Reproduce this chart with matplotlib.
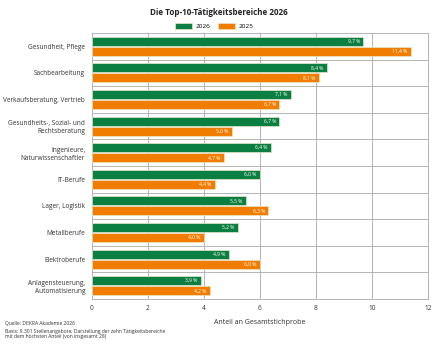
import matplotlib.pyplot as plt
import numpy as np

plt.rcParams['font.family'] = ['Open Sans', 'DejaVu Sans']

kategorien = ["Gesundheit, Pflege", "Sachbearbeitung", "Verkaufsberatung, Vertrieb",
              "Gesundheits-, Sozial- und\nRechtsberatung", "Ingenieure,\nNaturwissenschaftler",
              "IT-Berufe", "Lager, Logistik", "Metallberufe", "Elektroberufe",
              "Anlagensteuerung,\nAutomatisierung"]
werte_2026 = [9.7, 8.4, 7.1, 6.7, 6.4, 6.0, 5.5, 5.2, 4.9, 3.9]
werte_2025 = [11.4, 8.1, 6.7, 5.0, 4.7, 4.4, 6.3, 4.0, 6.0, 4.2]

gruen = "#0b7f41"
orange = "#f07d00"

fig = plt.figure(figsize=(4.37, 3.45), dpi=100)
ax = fig.add_axes([0.2105, 0.1333, 0.7685, 0.771])

y = np.arange(len(kategorien))
h = 0.34
b1 = ax.barh(y - h/2 - 0.02, werte_2026, height=h, color=gruen, edgecolor="#e8e6c8", linewidth=0.5, label="2026", zorder=3)
b2 = ax.barh(y + h/2 + 0.02, werte_2025, height=h, color=orange, edgecolor="#e8e6c8", linewidth=0.5, label="2025", zorder=3)

for bars, werte in ((b1, werte_2026), (b2, werte_2025)):
    for bar, v in zip(bars, werte):
        ax.text(bar.get_width() - 0.12, bar.get_y() + bar.get_height()/2,
                f"{v:.1f} %".replace(".", ","), color="white", fontsize=3.6,
                ha="right", va="center", zorder=4)

ax.set_ylim(len(kategorien) - 0.5, -0.5)
ax.set_xlim(0, 12)
ax.set_xticks(range(0, 13, 2))
ax.set_yticks(y)
ax.set_yticklabels(kategorien, fontsize=4.7, color="#333333")
ax.tick_params(axis="x", labelsize=4.7, colors="#333333", length=0, pad=4)
ax.tick_params(axis="y", length=0, pad=5)

# Gitter: senkrecht an den Ticks, waagerecht zwischen den Kategorien
for xv in range(2, 13, 2):
    ax.axvline(xv, color="#aaaaaa", linewidth=0.6, zorder=1)
for yv in np.arange(0.5, len(kategorien) - 0.5, 1):
    ax.axhline(yv, color="#aaaaaa", linewidth=0.6, zorder=1)
for s in ax.spines.values():
    s.set_color("#aaaaaa")
    s.set_linewidth(0.6)

ax.set_xlabel("Anteil an Gesamtstichprobe", fontsize=5, color="#333333", labelpad=5)

fig.text(0.5, 0.978, "Die Top-10-Tätigkeitsbereiche 2026", ha="center", va="top",
         fontsize=5.8, fontweight="bold", color="#222222")
fig.legend(handles=[b1, b2], loc="center", bbox_to_anchor=(0.49, 0.925), ncol=2,
           frameon=False, fontsize=4.6, handlelength=2.7, handleheight=1.0,
           columnspacing=1.2, handletextpad=0.5)

fig.text(0.012, 0.061, "Quelle: DEKRA Akademie 2026", fontsize=3.6, color="#333333", va="center")
fig.text(0.012, 0.031, "Basis: 9.301 Stellenangebote; Darstellung der zehn Tätigkeitsbereiche\nmit dem höchsten Anteil (von insgesamt 28)",
         fontsize=3.6, color="#333333", va="center", linespacing=1.0)

fig.savefig("out.png", dpi=100)
